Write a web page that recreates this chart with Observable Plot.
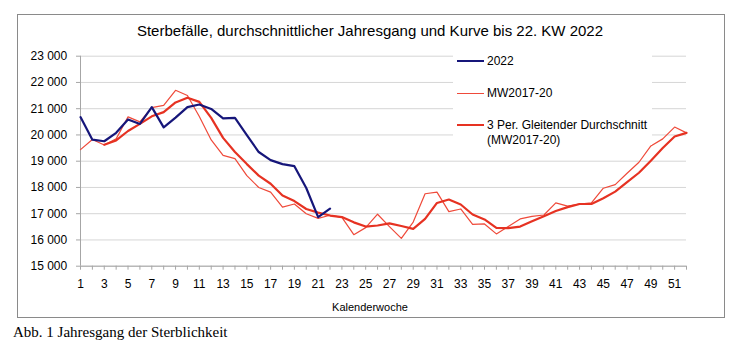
<!DOCTYPE html>
<html>
<head>
<meta charset="utf-8">
<script src="https://cdn.jsdelivr.net/npm/d3@7"></script>
<script src="https://cdn.jsdelivr.net/npm/@observablehq/plot@0.6"></script>
<style>
  html, body { margin: 0; padding: 0; background: #fff; }
  #page { position: relative; width: 740px; height: 353px; overflow: hidden; font-family: "Liberation Sans", Arial, sans-serif; }
  #frame { position: absolute; left: 17px; top: 14px; width: 708px; height: 304px; box-sizing: border-box; border: 1px solid #8a8a8a; }
  #title { position: absolute; left: 0; width: 740px; top: 22px; text-align: center; font-size: 15px; line-height: 18px; color: #000; }
  #chart { position: absolute; left: 0; top: 0; }
  #xlabel { position: absolute; left: 0; width: 740px; top: 300px; text-align: center; font-size: 11px; line-height: 14px; color: #000; }
  #legend { position: absolute; left: 453px; top: 50px; width: 199px; height: 95px; background: #fff; }
  .row { position: absolute; left: 0; width: 199px; }
  .sample { position: absolute; left: 4px; width: 27px; }
  .lab { position: absolute; left: 34px; width: 166px; font-size: 12px; line-height: 14.5px; color: #000; }
  #caption { position: absolute; left: 13px; top: 323px; font-family: "Liberation Serif", "Times New Roman", serif; font-size: 15px; line-height: 18px; color: #000; }
</style>
</head>
<body>
<div id="page">
  <div id="frame"></div>
  <div id="title">Sterbefälle, durchschnittlicher Jahresgang und Kurve bis 22. KW 2022</div>
  <div id="chart"></div>
  <div id="xlabel">Kalenderwoche</div>
  <div id="legend"></div>
  <div id="caption">Abb. 1 Jahresgang der Sterblichkeit</div>
</div>
<script>
// ---- data ----
const weeks = d3.range(1, 53);
const yTicks = [15000, 16000, 17000, 18000, 19000, 20000, 21000, 22000, 23000];
const seriesNames = ["2022", "MW2017-20", "3 Per. Gleitender Durchschnitt (MW2017-20)"];
const seriesColors = ["#16167a", "#ef4a3a", "#e63222"];
const seriesWidths = [2.2, 1.2, 2.2];

const values2022 = [20680, 19820, 19760, 20080, 20590, 20420, 21060, 20290, 20660, 21060,
  21160, 20990, 20630, 20650, 19990, 19350, 19040, 18890, 18810, 17980, 16870, 17190];

const valuesMW = [19440, 19825, 19620, 19850, 20690, 20500, 21040, 21130, 21700, 21500,
  20700, 19810, 19220, 19100, 18450, 18000, 17820, 17250, 17370, 17000,
  16820, 16940, 16860, 16200, 16470, 16980, 16510, 16060, 16680, 17760,
  17820, 17080, 17180, 16590, 16610, 16230, 16510, 16800, 16900, 16950,
  17410, 17290, 17370, 17410, 17970, 18110, 18540, 18960, 19580, 19850,
  20300, 20080];

const valuesMA = [null, null, 19630, 19790, 20150, 20420, 20710, 20870, 21240, 21420,
  21260, 20650, 19890, 19350, 18890, 18450, 18140, 17690, 17480, 17180,
  17040, 16930, 16870, 16670, 16510, 16550, 16630, 16530, 16420, 16800,
  17410, 17540, 17350, 16970, 16780, 16460, 16450, 16510, 16710, 16900,
  17100, 17250, 17370, 17370, 17590, 17840, 18200, 18560, 19020, 19500,
  19940, 20080];

// ---- build tables ----
const rows = (vals, name) => vals.map((v, i) => ({week: weeks[i], value: v, series: name}));
const d2022 = rows(values2022, seriesNames[0]);
const dMW = rows(valuesMW, seriesNames[1]);
const dMA = rows(valuesMA, seriesNames[2]).filter(d => d.value != null);

const fmt = d => d3.format(",")(d).replace(",", " ");

const chart = Plot.plot({
  width: 740,
  height: 300,
  marginLeft: 80,
  marginRight: 54,
  marginTop: 55.7,
  marginBottom: 34.3,
  style: {fontFamily: "'Liberation Sans', Arial, sans-serif", fontSize: "12px", color: "#000", background: "transparent"},
  x: {type: "linear", domain: [1, 52]},
  y: {domain: [15000, 23000]},
  marks: [
    Plot.gridY(yTicks, {stroke: "#d6d6d6", strokeOpacity: 1, strokeWidth: 1}),
    Plot.ruleX([weeks[0]], {stroke: "#a6a6a6", strokeWidth: 1}),
    Plot.ruleY([yTicks[0]], {stroke: "#a6a6a6", strokeWidth: 1}),
    Plot.axisY(yTicks, {tickSize: 4, tickPadding: 9.3, tickFormat: fmt, stroke: "#a6a6a6", fill: "#000", label: null}),
    Plot.axisX(weeks, {tickSize: 4, tickPadding: 9, tickFormat: d => (d % 2 ? String(d) : ""), stroke: "#a6a6a6", fill: "#000", label: null}),
    Plot.line(dMW, {x: "week", y: "value", stroke: seriesColors[1], strokeWidth: seriesWidths[1], curve: "linear"}),
    Plot.line(dMA, {x: "week", y: "value", stroke: seriesColors[2], strokeWidth: seriesWidths[2], curve: "linear"}),
    Plot.line(d2022, {x: "week", y: "value", stroke: seriesColors[0], strokeWidth: seriesWidths[0], curve: "linear"})
  ]
});
document.getElementById("chart").appendChild(chart);

// ---- legend ----
const legend = document.getElementById("legend");
seriesNames.forEach((name, i) => {
  const row = document.createElement("div");
  row.className = "row";
  row.style.top = (4 + i * 32) + "px";
  const s = document.createElement("div");
  s.className = "sample";
  s.style.top = (7.25 - seriesWidths[i] / 2) + "px";
  s.style.height = seriesWidths[i] + "px";
  s.style.background = seriesColors[i];
  const l = document.createElement("div");
  l.className = "lab";
  l.textContent = name;
  row.appendChild(s);
  row.appendChild(l);
  legend.appendChild(row);
});
</script>
</body>
</html>
